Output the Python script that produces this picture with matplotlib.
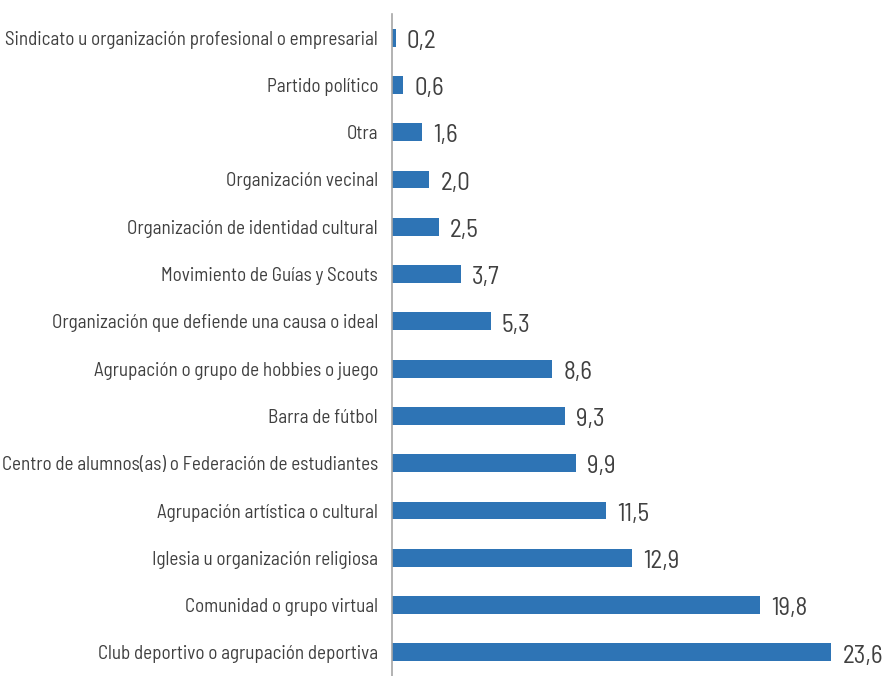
import matplotlib.pyplot as plt
from matplotlib import font_manager
from matplotlib.font_manager import FontProperties
from matplotlib.textpath import TextPath

# Categorías (de abajo hacia arriba) y porcentajes
categorias = [
    'Club deportivo o agrupación deportiva',
    'Comunidad o grupo virtual',
    'Iglesia u organización religiosa',
    'Agrupación artística o cultural',
    'Centro de alumnos(as) o Federación de estudiantes',
    'Barra de fútbol',
    'Agrupación o grupo de hobbies o juego',
    'Organización que defiende una causa o ideal',
    'Movimiento de Guías y Scouts',
    'Organización de identidad cultural',
    'Organización vecinal',
    'Otra',
    'Partido político',
    'Sindicato u organización profesional o empresarial',
]
valores = [23.6, 19.8, 12.9, 11.5, 9.9, 9.3, 8.6, 5.3, 3.7, 2.5, 2.0, 1.6, 0.6, 0.2]

# fuente estrecha tipo DIN, la primera que esté instalada
disponibles = {f.name for f in font_manager.fontManager.ttflist}
preferidas = ['Barlow Semi Condensed', 'Roboto Condensed', 'PT Sans Narrow',
              'Fira Sans Condensed', 'Liberation Sans Narrow', 'Open Sans Condensed',
              'Roboto']
familia = next((f for f in preferidas if f in disponibles), 'DejaVu Sans')
plt.rcParams['font.family'] = [familia, 'DejaVu Sans']


def tam_para_ancho(texto, ancho_px):
    w = TextPath((0, 0), texto, size=100, prop=FontProperties(family=familia)).get_extents().width
    return 100 * (ancho_px * 72 / 100) / w


tam_cat = tam_para_ancho(max(categorias, key=len), 370)
tam_val = tam_para_ancho('23,6', 38)

fig = plt.figure(figsize=(8.87, 6.76), dpi=100)
ax = fig.add_axes([392 / 887, 0, 495 / 887, 662 / 676])

pos = range(len(categorias))
ax.barh(pos, valores, height=0.38, color='#2E74B5')

for y, v in zip(pos, valores):
    ax.text(v + 0.6, y - 0.08, f'{v:.1f}'.replace('.', ','),
            va='center', ha='left', fontsize=tam_val, color='#404040')

ax.set_yticks(list(pos))
ax.set_yticklabels(categorias, fontsize=tam_cat, color='#404040')
ax.tick_params(axis='y', length=0, pad=10)
ax.set_xticks([])
ax.set_xlim(0, 26.6)
ax.set_ylim(-0.5, len(categorias) - 0.5)

for s in ['top', 'right', 'bottom']:
    ax.spines[s].set_visible(False)
ax.spines['left'].set_color('#A6A6A6')
ax.spines['left'].set_linewidth(1.2)

fig.savefig('out.png', dpi=100)
